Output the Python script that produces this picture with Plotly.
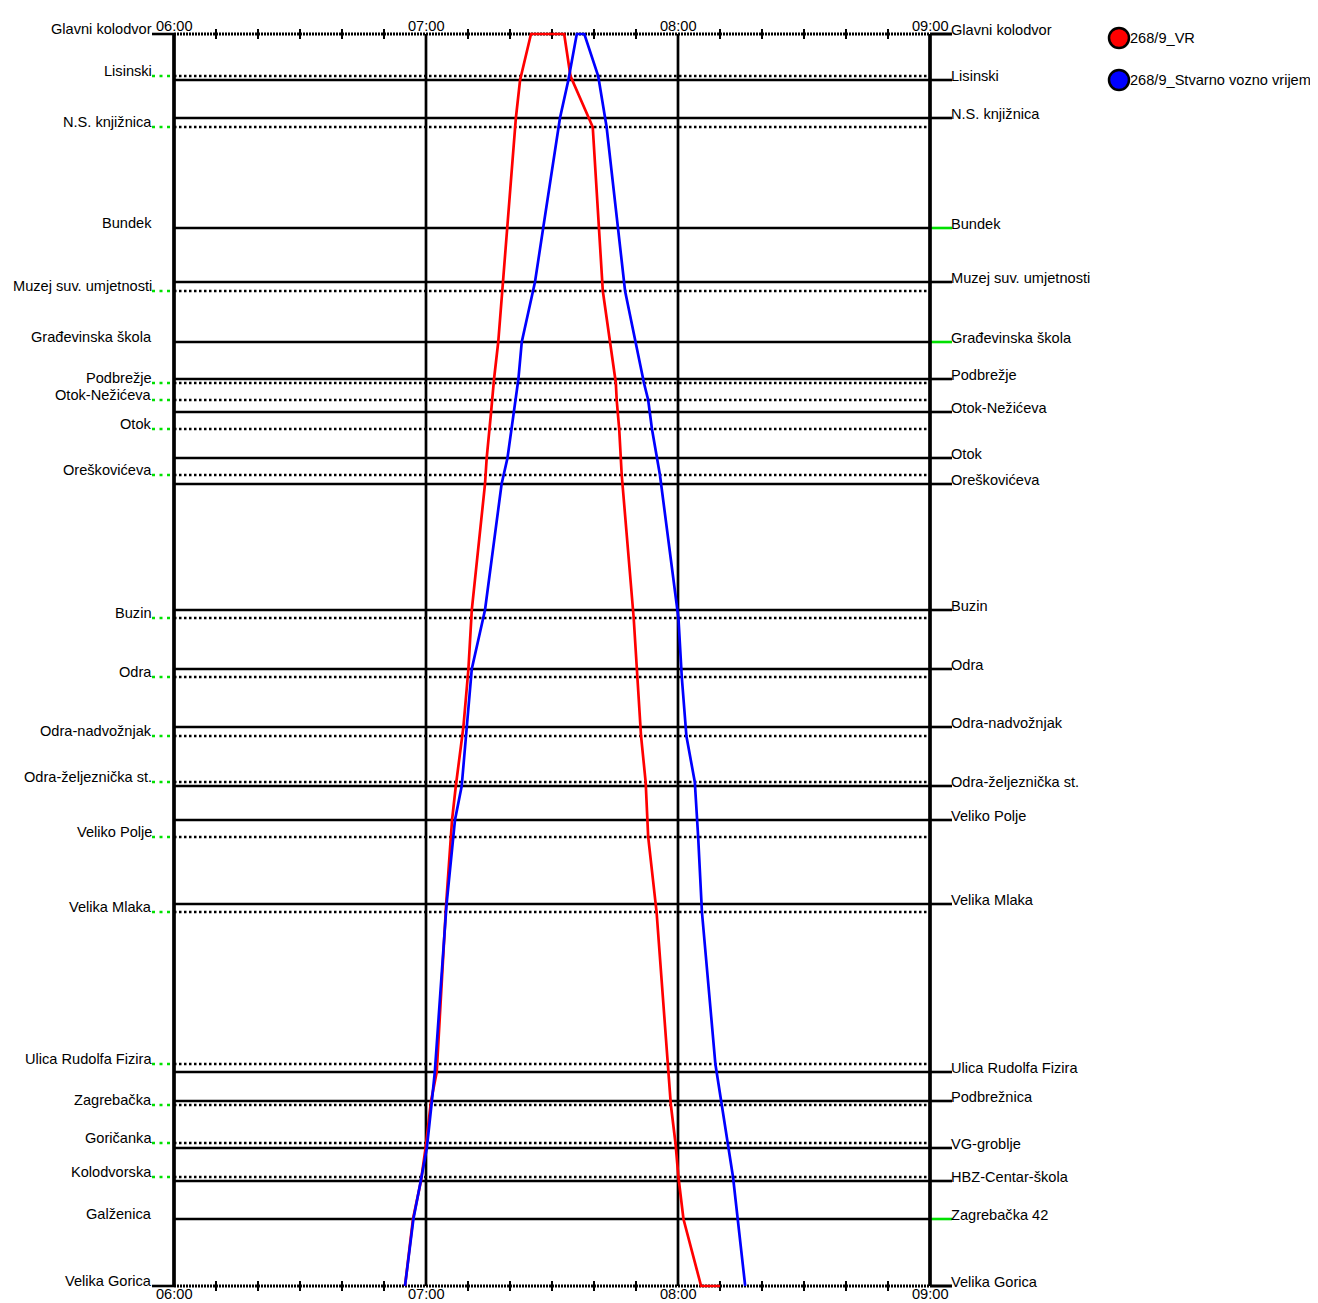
import pandas as pd
import plotly.graph_objects as go

DAN = "2024-01-01 "

# stanice uz tockaste linije (lijevi natpisi), km od Glavnog kolodvora
STANICE_L = ["Glavni kolodvor", "Lisinski", "N.S. knjižnica", "Muzej suv. umjetnosti",
             "Podbrežje", "Otok-Nežićeva", "Otok", "Oreškovićeva", "Buzin", "Odra",
             "Odra-nadvožnjak", "Odra-željeznička st.", "Veliko Polje", "Velika Mlaka",
             "Ulica Rudolfa Fizira", "Zagrebačka", "Goričanka", "Kolodvorska", "Velika Gorica"]
KM_L = [0.0, 0.42, 0.93, 2.57, 3.49, 3.66, 3.95, 4.41, 5.84, 6.43,
        7.02, 7.48, 8.03, 8.78, 10.30, 10.71, 11.09, 11.43, 12.52]

# stanice uz pune linije (desni natpisi)
STANICE_D = ["Glavni kolodvor", "Lisinski", "N.S. knjižnica", "Bundek", "Muzej suv. umjetnosti",
             "Građevinska škola", "Podbrežje", "Otok-Nežićeva", "Otok", "Oreškovićeva", "Buzin",
             "Odra", "Odra-nadvožnjak", "Odra-željeznička st.", "Veliko Polje", "Velika Mlaka",
             "Ulica Rudolfa Fizira", "Podbrežnica", "VG-groblje", "HBZ-Centar-škola",
             "Zagrebačka 42", "Velika Gorica"]
KM_D = [0.0, 0.46, 0.84, 1.94, 2.48, 3.08, 3.45, 3.78, 4.24, 4.50, 5.76,
        6.35, 6.93, 7.52, 7.86, 8.70, 10.38, 10.67, 11.14, 11.47, 11.85, 12.52]
ZELENE_D = ["Bundek", "Građevinska škola", "Zagrebačka 42"]

# lijevi natpisi bez oznake (stanice samo u drugom smjeru)
DODATNE_L = ["Bundek", "Građevinska škola", "Galženica"]
KM_DODATNE_L = [1.94, 3.08, 11.85]

SATI = ["06:00", "07:00", "08:00", "09:00"]
CRTICE = ["06:10", "06:20", "06:30", "06:40", "06:50", "07:10", "07:20", "07:30", "07:40",
          "07:50", "08:10", "08:20", "08:30", "08:40", "08:50"]

# 268/9_VR (vozni red)
VR_VRIJEME = ["06:55:00", "06:56:54", "06:58:48", "06:59:54", "07:01:12", "07:02:33", "07:04:48",
              "07:06:12", "07:07:06", "07:08:54", "07:10:06", "07:10:54", "07:14:03", "07:14:27",
              "07:15:30", "07:16:12", "07:17:12", "07:18:18", "07:19:24", "07:21:24", "07:22:24",
              "07:25:00", "07:32:54", "07:34:24", "07:39:42", "07:42:06", "07:45:12", "07:45:24",
              "07:46:00", "07:46:36", "07:49:27", "07:50:24", "07:51:12", "07:52:18", "07:52:54",
              "07:54:54", "07:57:33", "07:58:18", "07:59:24", "08:00:06", "08:01:18", "08:05:30",
              "08:10:00"]
VR_KM = [12.52, 11.85, 11.47, 11.14, 10.67, 10.38, 8.70, 7.86, 7.52, 6.93, 6.35, 5.76, 4.50, 4.24,
         3.78, 3.45, 3.08, 2.48, 1.94, 0.84, 0.46, 0.0, 0.0, 0.42, 0.93, 2.57, 3.49, 3.66,
         3.95, 4.41, 5.84, 6.43, 7.02, 7.48, 8.03, 8.78, 10.30, 10.71, 11.09, 11.43, 11.85, 12.52,
         12.52]

# 268/9_Stvarno vozno vrijeme
SV_VRIJEME = ["06:55:00", "06:57:00", "06:58:45", "07:00:12", "07:01:24", "07:02:06", "07:04:54",
              "07:06:54", "07:08:30", "07:09:42", "07:10:54", "07:14:03", "07:18:00", "07:19:24",
              "07:21:00", "07:22:00", "07:22:48", "07:25:57", "07:27:54", "07:31:54", "07:33:54",
              "07:35:54", "07:37:42", "07:41:00", "07:43:00", "07:47:24", "07:51:54", "07:52:54",
              "07:53:48", "07:55:42", "08:00:06", "08:00:54", "08:02:00", "08:04:00", "08:04:48",
              "08:05:42", "08:08:54", "08:10:24", "08:11:54", "08:13:06", "08:16:00"]
SV_KM = [12.52, 11.85, 11.47, 11.14, 10.67, 10.38, 8.70, 7.86, 7.52, 6.93, 6.35, 5.76, 4.50, 4.24,
         3.78, 3.45, 3.08, 2.48, 1.94, 0.84, 0.46, 0.0, 0.0, 0.42, 0.93, 2.57, 3.49, 3.66,
         3.95, 4.41, 5.84, 6.43, 7.02, 7.48, 8.03, 8.78, 10.30, 10.71, 11.09, 11.43, 12.52]

FONT = "Arial, Liberation Sans, sans-serif"
ZELENA = "#00e000"
PX_MIN = 4.2          # piksela po minuti
STUB = 22 / PX_MIN    # duljina oznake stanice u minutama
X_06 = 174            # piksel 06:00
Y_GK = 34             # piksel Glavnog kolodvora
PX_KM = 100           # piksela po km


def t(s):
    return pd.Timestamp(DAN + s)


def ts(x):
    return x.strftime("%Y-%m-%d %H:%M:%S.%f")


def pomak(vr, minute):
    return ts(t(vr) + pd.Timedelta(minutes=minute))


POCETAK = ts(t("06:00"))
KRAJ = ts(t("09:00"))
LIJEVO = pomak("06:00", -STUB)
DESNO = pomak("09:00", STUB)
KM_MAX = KM_L[-1]


def segmenti(x0, x1, km_lista):
    xs, ys = [], []
    for km in km_lista:
        xs += [x0, x1, None]
        ys += [km, km, None]
    return xs, ys


fig = go.Figure()
DEB = 2.6

# pune linije (bez krajnjih stanica)
x, y = segmenti(POCETAK, KRAJ, KM_D[1:-1])
fig.add_trace(go.Scatter(x=x, y=y, mode="lines", line=dict(color="black", width=DEB)))
crne = [k for s, k in zip(STANICE_D, KM_D) if s not in ZELENE_D]
zelene = [k for s, k in zip(STANICE_D, KM_D) if s in ZELENE_D]
x, y = segmenti(KRAJ, DESNO, crne)
fig.add_trace(go.Scatter(x=x, y=y, mode="lines", line=dict(color="black", width=DEB)))
x, y = segmenti(KRAJ, DESNO, zelene)
fig.add_trace(go.Scatter(x=x, y=y, mode="lines", line=dict(color=ZELENA, width=DEB)))

# tockaste linije
x, y = segmenti(POCETAK, KRAJ, KM_L[1:-1])
fig.add_trace(go.Scatter(x=x, y=y, mode="lines",
                         line=dict(color="black", width=DEB, dash="2.5px,2.5px")))
x, y = segmenti(LIJEVO, POCETAK, KM_L[1:-1])
fig.add_trace(go.Scatter(x=x, y=y, mode="lines",
                         line=dict(color=ZELENA, width=DEB, dash="3px,4.5px")))

# krajnje stanice: gusto tockasta linija s crticama svakih 10 min
x, y = segmenti(POCETAK, KRAJ, [0.0, KM_MAX])
fig.add_trace(go.Scatter(x=x, y=y, mode="lines",
                         line=dict(color="black", width=3, dash="2px,1px")))
x, y = segmenti(LIJEVO, POCETAK, [0.0, KM_MAX])
fig.add_trace(go.Scatter(x=x, y=y, mode="lines", line=dict(color="black", width=DEB)))
x, y = segmenti(KRAJ, DESNO, [0.0, KM_MAX])
fig.add_trace(go.Scatter(x=x, y=y, mode="lines", line=dict(color="black", width=DEB)))
fig.add_trace(go.Scatter(x=[ts(t(c)) for c in CRTICE] * 2,
                         y=[0.0] * len(CRTICE) + [KM_MAX] * len(CRTICE),
                         mode="markers",
                         marker=dict(symbol="line-ns", size=7, line=dict(color="black", width=2))))

# vertikalne linije sati
for s in SATI:
    sirina = 3.7 if s in ("06:00", "09:00") else 2.7
    fig.add_trace(go.Scatter(x=[ts(t(s)), ts(t(s))], y=[0.0, KM_MAX], mode="lines",
                             line=dict(color="black", width=sirina)))

# vlakovi
fig.add_trace(go.Scatter(x=[ts(t(v)) for v in VR_VRIJEME], y=VR_KM, mode="lines",
                         line=dict(color="#ff0000", width=2.7)))
fig.add_trace(go.Scatter(x=[ts(t(v)) for v in SV_VRIJEME], y=SV_KM, mode="lines",
                         line=dict(color="#0000ff", width=2.7)))

font = dict(family=FONT, size=14.6, color="black")
ann = []
for s, k in list(zip(STANICE_L, KM_L)) + list(zip(DODATNE_L, KM_DODATNE_L)):
    ann.append(dict(x=LIJEVO, y=k, text=s, showarrow=False, xanchor="right", yanchor="bottom",
                    xshift=1, yshift=-4, borderpad=0, font=font))
for s, k in zip(STANICE_D, KM_D):
    ann.append(dict(x=DESNO, y=k, text=s, showarrow=False, xanchor="left", yanchor="bottom",
                    xshift=-2, yshift=-5, borderpad=0, font=font))
for s in SATI:
    ann.append(dict(x=ts(t(s)), y=0.0, text=s, showarrow=False, xanchor="center",
                    yanchor="bottom", yshift=-1, borderpad=0, font=font))
    ann.append(dict(x=ts(t(s)), y=KM_MAX, text=s, showarrow=False, xanchor="center",
                    yanchor="top", yshift=1, borderpad=0, font=font))

# okvir (pikseli prozora; stranica ima rub od 8 px)
OFF = 8
PROZOR_W, PROZOR_H = 1318, 1303
L, R, T, B = 140, 960, 20, 1300


def px_x(p):
    return (p - L) / (R - L)


def px_y(p):
    return (B - p) / (B - T)


shapes = []
for boja, naziv, py in [("#ff0000", "268/9_VR", 38), ("#0000ff", "268/9_Stvarno vozno vrijeme", 80)]:
    shapes.append(dict(type="circle", xref="paper", yref="paper", xsizemode="pixel",
                       ysizemode="pixel", xanchor=px_x(1119), yanchor=px_y(py),
                       x0=-10, x1=10, y0=-10, y1=10, fillcolor=boja,
                       line=dict(color="black", width=2.5)))
    ann.append(dict(xref="paper", yref="paper", x=px_x(1129), y=px_y(py), text=naziv,
                    showarrow=False, xanchor="left", yanchor="middle", borderpad=0, font=font))

x_od = pomak("06:00", -(X_06 - L) / PX_MIN)
x_do = pomak("06:00", (R - X_06) / PX_MIN)
fig.update_layout(
    width=PROZOR_W - OFF, height=PROZOR_H - OFF, autosize=False,
    margin=dict(l=L - OFF, r=PROZOR_W - R, t=T - OFF, b=PROZOR_H - B),
    paper_bgcolor="white", plot_bgcolor="white",
    showlegend=False, hovermode=False,
    xaxis=dict(type="date", range=[x_od, x_do], showgrid=False, zeroline=False,
               showticklabels=False, showline=False, ticks=""),
    yaxis=dict(range=[(B - Y_GK) / PX_KM, (T - Y_GK) / PX_KM], showgrid=False, zeroline=False,
               showticklabels=False, showline=False, ticks=""),
    annotations=ann, shapes=shapes,
)
fig.write_html("out.html")
